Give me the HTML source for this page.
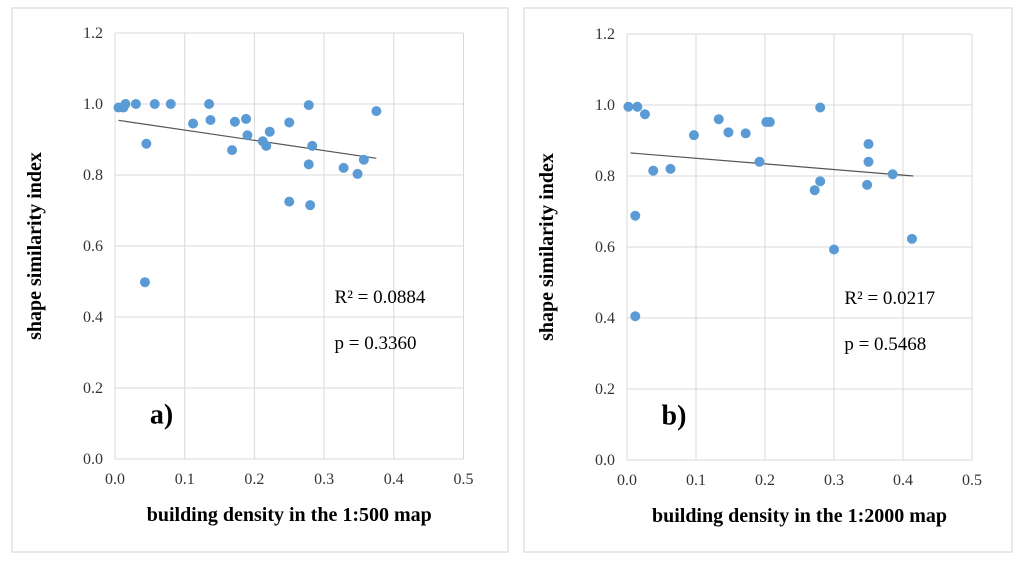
<!DOCTYPE html>
<html><head><meta charset="utf-8"><style>
body{margin:0;background:#fff;}
svg{display:block;font-family:"Liberation Serif",serif;}
</style></head><body>
<svg id="s" width="1024" height="562">
<rect x="12" y="8" width="496" height="544" fill="#fff" stroke="#d0d0d0"/>
<rect x="524" y="8" width="488" height="544" fill="#fff" stroke="#d0d0d0"/>
</svg>
<script>
const xTicks=[0,0.1,0.2,0.3,0.4,0.5];
const yTicks=[0,0.2,0.4,0.6,0.8,1.0,1.2];
const aX=[0.005,0.012,0.015,0.03,0.057,0.08,0.135,0.278,0.375,0.112,0.137,0.172,0.188,0.25,0.222,0.19,0.212,0.217,0.283,0.045,0.168,0.278,0.357,0.328,0.348,0.25,0.28,0.043];
const aY=[0.99,0.99,1.0,1.0,1.0,1.0,1.0,0.997,0.98,0.945,0.955,0.95,0.958,0.948,0.922,0.912,0.895,0.882,0.882,0.888,0.87,0.83,0.843,0.82,0.803,0.725,0.715,0.498];
const aTrend=[[0.005,0.954],[0.375,0.847]];
const bX=[0.002,0.015,0.026,0.038,0.063,0.097,0.133,0.147,0.172,0.192,0.202,0.207,0.28,0.272,0.28,0.35,0.35,0.348,0.385,0.3,0.413,0.012,0.012];
const bY=[0.995,0.995,0.974,0.815,0.82,0.915,0.96,0.923,0.92,0.84,0.952,0.952,0.993,0.76,0.785,0.89,0.84,0.775,0.805,0.593,0.623,0.688,0.405];
const bTrend=[[0.005,0.865],[0.415,0.8]];
const svg=document.getElementById('s');
const NS='http://www.w3.org/2000/svg';
function mk(t,a,txt){const e=document.createElementNS(NS,t);for(const k in a)e.setAttribute(k,a[k]);if(txt!==undefined)e.textContent=txt;svg.appendChild(e);return e;}
function panel(p,x0,y0,xs,ys,X,Y,trend,xtitle,label,r2,pv){
 const sx=v=>x0+v*xs, sy=v=>y0-v*ys;
 xTicks.forEach(t=>{const l=mk('line',{x1:sx(t),x2:sx(t),y1:sy(0),y2:sy(1.2),stroke:'#d9d9d9'});
 
 
 const tx=mk('text',{x:sx(t),y:sy(0)+25,'text-anchor':'middle','font-size':16,fill:'#333'},t.toFixed(1));
 
 });
 yTicks.forEach(t=>{const l=mk('line',{x1:sx(0),x2:sx(0.5),y1:sy(t),y2:sy(t),stroke:'#d9d9d9'});
 
 
 const tx=mk('text',{x:sx(0)-12,y:sy(t)+5,'text-anchor':'end','font-size':16,fill:'#333'},t.toFixed(1));
 
 });
 const tl=mk('line',{x1:sx(trend[0][0]),y1:sy(trend[0][1]),x2:sx(trend[1][0]),y2:sy(trend[1][1]),stroke:'#555','stroke-width':1.2});
 
 
 X.forEach((v,i)=>{const c=mk('circle',{cx:sx(v),cy:sy(Y[i]),r:5,fill:'#5b9bd5'});
 
 });
 const yt=mk('text',{x:0,y:0,transform:`translate(${x0-74},${sy(0.6)}) rotate(-90)`,'text-anchor':'middle','font-size':20,'font-weight':'bold'},'shape similarity index');
 
 
 const xt=mk('text',{x:sx(0.25),y:sy(0)+62,'text-anchor':'middle','font-size':20,'font-weight':'bold'},xtitle);
 
 
 const lb=mk('text',{x:sx(0.05),y:sy(0.1),'font-size':28,'font-weight':'bold'},label);
 
 
 const r=mk('text',{x:sx(0.315),y:sy(0.44),'font-size':19},r2);
 
 
 const pp=mk('text',{x:sx(0.315),y:sy(0.31),'font-size':19},pv);
 
 
}
panel('a',115,459,697,355,aX,aY,aTrend,'building density in the 1:500 map','a)','R² = 0.0884','p = 0.3360');
panel('b',627,460,690,355,bX,bY,bTrend,'building density in the 1:2000 map','b)','R² = 0.0217','p = 0.5468');
</script>
</body></html>
